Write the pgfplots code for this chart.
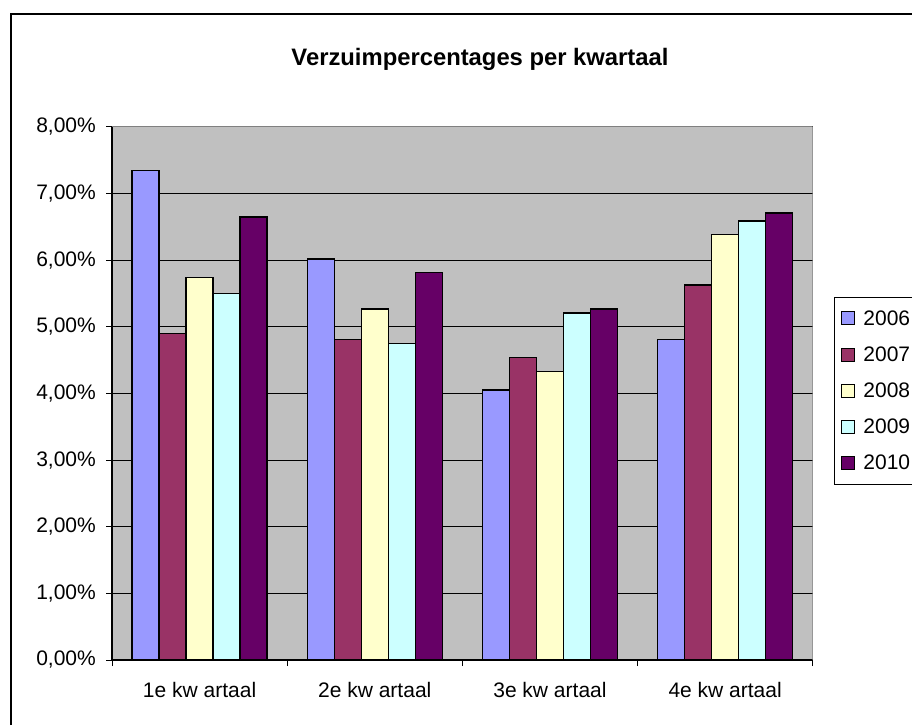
\documentclass[border=0pt]{standalone}
\usepackage{pgfplots}
\pgfplotsset{compat=1.18}
\usepackage{fontspec}
\setmainfont{Liberation Sans}
\definecolor{cA}{HTML}{9999FF}
\definecolor{cB}{HTML}{993366}
\definecolor{cC}{HTML}{FFFFCC}
\definecolor{cD}{HTML}{CCFFFF}
\definecolor{cE}{HTML}{660066}
\definecolor{plotbg}{HTML}{C0C0C0}
\begin{document}
\begin{tikzpicture}[x=1pt,y=1pt]
\useasboundingbox (0,0) rectangle (912,-725);
\fill[white] (0,0) rectangle (912,-725);
\draw[black, line width=1.3pt] (11,-725) -- (11,-14) -- (912,-14);
\node[font=\fontsize{23.8}{28}\selectfont\bfseries, anchor=base] at (480,-65) {Verzuimpercentages per kwartaal};
\begin{axis}[
  at={(112pt,-660pt)}, anchor=south west,
  width=700.7pt, height=533.3pt, scale only axis,
  ymin=0, ymax=8, xmin=-0.5, xmax=3.5,
  ytick={0,1,...,8},
  xtick={0,1,2,3},
  xticklabels={1e kw artaal,2e kw artaal,3e kw artaal,4e kw artaal},
  minor xtick={-0.5,0.5,1.5,2.5,3.5},
  major x tick style={draw=none},
  tick align=outside,
  major tick length=6pt, minor tick length=6pt,
  tick style={black, line width=0.8pt},
  ymajorgrids, major grid style={black, line width=0.8pt},
  axis x line*=bottom, axis y line*=left,
  axis line style={black, line width=1.5pt, -},
  axis background/.style={fill=plotbg},
  /pgf/number format/assume math mode=true,
  yticklabel={\pgfmathprintnumber[fixed, fixed zerofill, precision=2, use comma]{\tick}\%},
  ticklabel style={font=\fontsize{21}{24}\selectfont},
  yticklabel style={inner sep=0pt, xshift=-10pt},
  xticklabel style={inner sep=0pt, yshift=-16pt},
  ybar=0pt, bar width=27pt,
  every axis plot/.append style={draw=black, line width=1.5pt},
  legend style={at={(rel axis cs:1.0304,0.6807)}, anchor=north west, draw=black, line width=0.8pt,
    font=\fontsize{21}{24}\selectfont, inner xsep=7pt, inner ysep=11pt, row sep=16pt, column sep=6pt,
    nodes={inner sep=2pt}},
  legend image code/.code={\draw[#1, line width=1pt] (0pt,-6.5pt) rectangle (13pt,6.5pt);},
  legend cell align=left,
]
\addplot[fill=cA] coordinates {(0,7.34) (1,6.015) (2,4.05) (3,4.81)};
\addplot[fill=cB] coordinates {(0,4.90) (1,4.81) (2,4.54) (3,5.625)};
\addplot[fill=cC] coordinates {(0,5.74) (1,5.265) (2,4.325) (3,6.38)};
\addplot[fill=cD] coordinates {(0,5.50) (1,4.75) (2,5.205) (3,6.585)};
\addplot[fill=cE] coordinates {(0,6.645) (1,5.81) (2,5.265) (3,6.705)};
\legend{2006\hspace*{20pt},2007,2008,2009,2010}
\draw[gray, line width=1.3pt] (rel axis cs:0,1) -- (rel axis cs:1,1) -- (rel axis cs:1,0);
\end{axis}
\end{tikzpicture}
\end{document}
